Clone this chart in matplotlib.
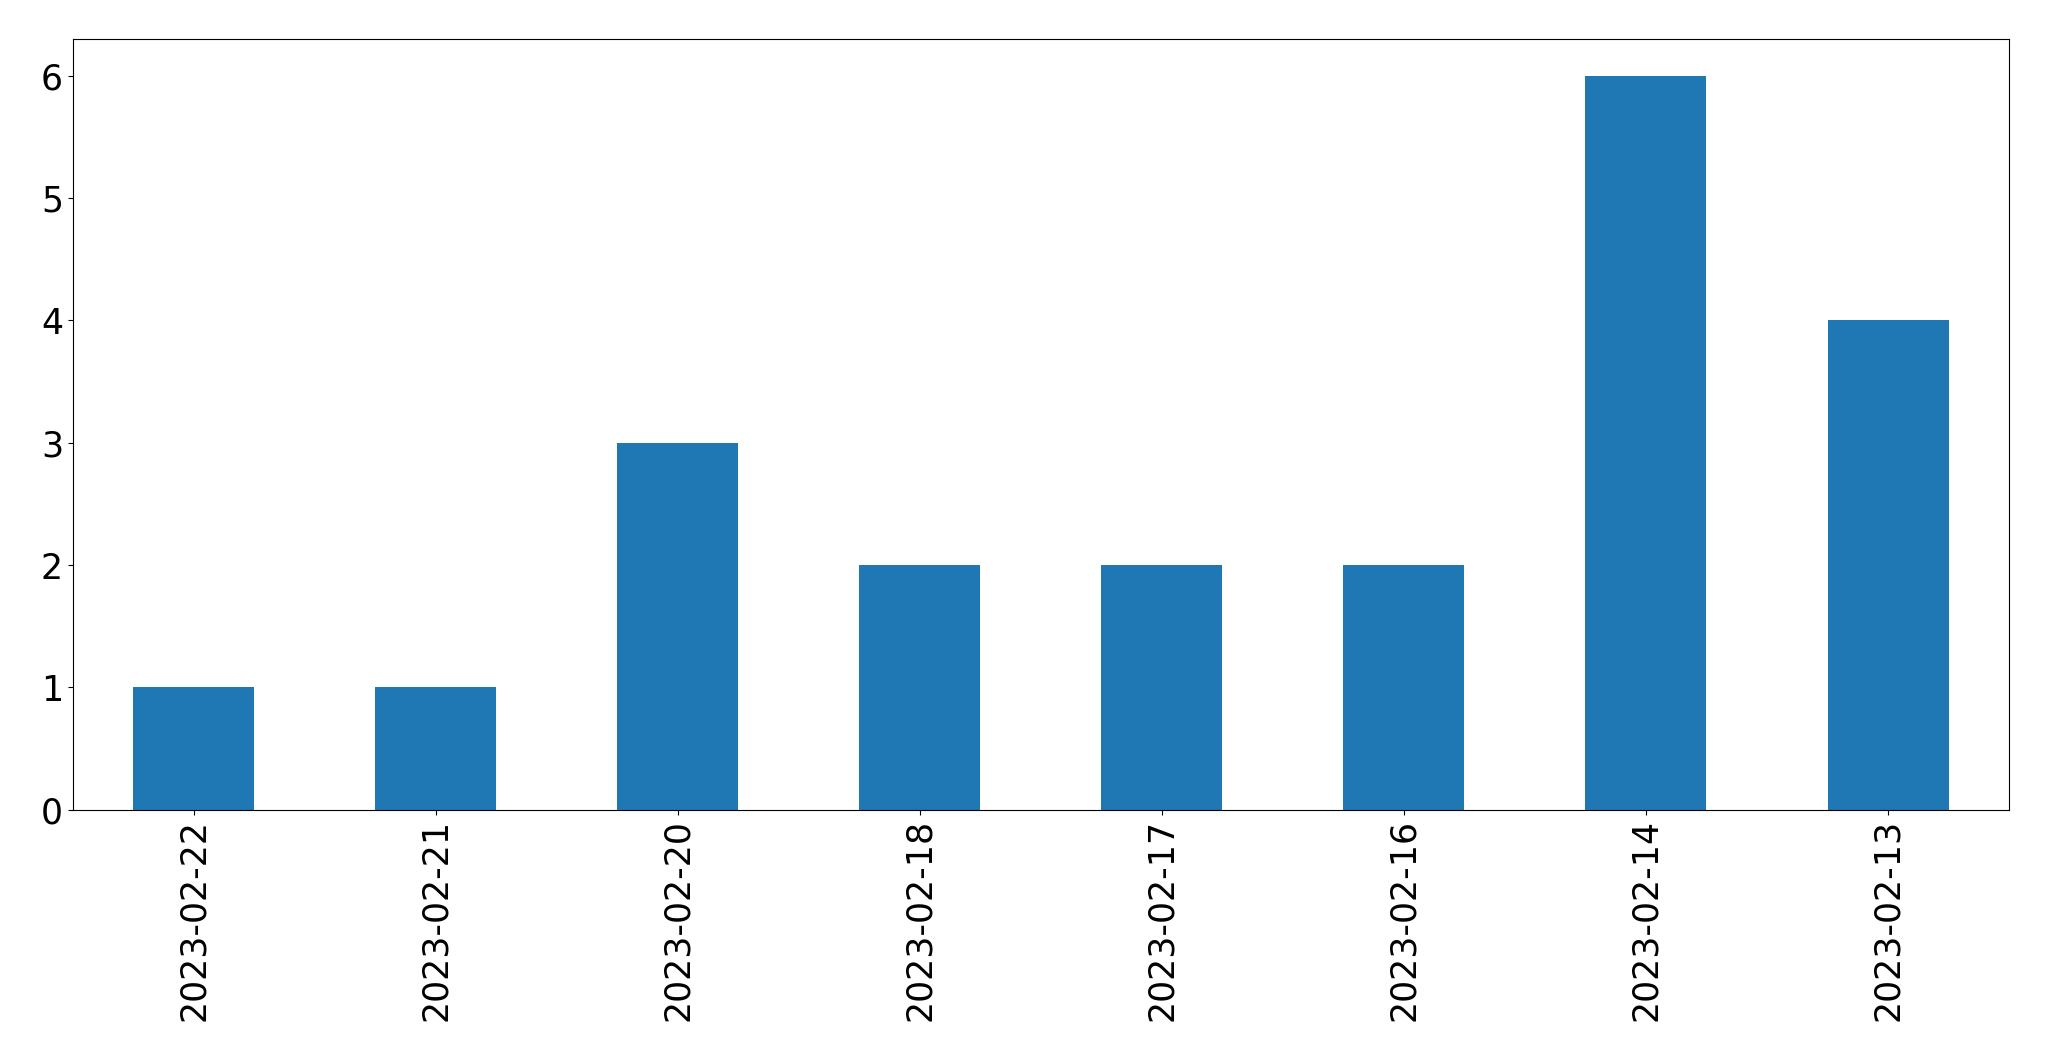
import pandas as pd
import matplotlib.pyplot as plt

dates = ["2023-02-22", "2023-02-21", "2023-02-20", "2023-02-18",
         "2023-02-17", "2023-02-16", "2023-02-14", "2023-02-13"]
counts = [1, 1, 3, 2, 2, 2, 6, 4]

s = pd.Series(counts, index=dates)

fig, ax = plt.subplots(figsize=(20.49, 10.61), dpi=100)
s.plot(kind="bar", ax=ax, color="#1f77b4", fontsize=25)

fig.subplots_adjust(left=0.0355, right=0.9805, top=0.963, bottom=0.237)
fig.savefig("out.png", dpi=100)
